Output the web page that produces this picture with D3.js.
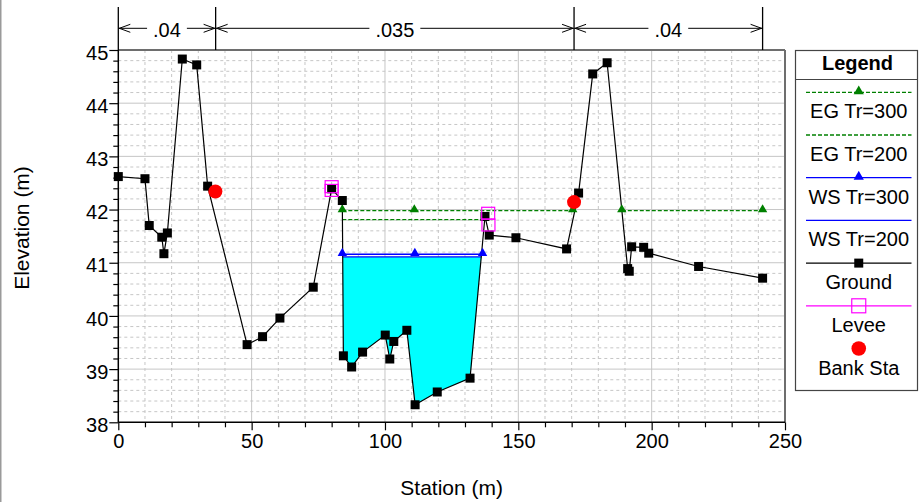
<!DOCTYPE html>
<html><head><meta charset="utf-8">
<script src="https://cdn.jsdelivr.net/npm/d3@7"></script>
<style>
html,body{margin:0;padding:0;background:#fff;}
svg{display:block;font-family:"Liberation Sans",Arial,Helvetica,sans-serif;}
</style></head>
<body>
<svg id="c" width="919" height="502"></svg>
<script>
// ---------- data ----------
const ground = [
  [0,42.62],[10.0,42.58],[11.6,41.70],[16.3,41.48],[17.1,41.17],[18.4,41.56],
  [24.0,44.83],[29.4,44.72],[33.5,42.44],[48.3,39.46],[54.1,39.61],[60.6,39.96],
  [73.1,40.54],[80.0,42.39],[84.0,42.17],[84.4,39.25],[87.5,39.04],[91.6,39.32],
  [100.1,39.64],[101.8,39.19],[103.3,39.52],[108.2,39.73],[111.3,38.33],[119.6,38.57],
  [131.9,38.83],[137.5,41.87],[139.1,41.52],[149.1,41.47],[168.1,41.26],[172.6,42.31],
  [177.9,44.55],[183.3,44.76],[191.0,40.89],[191.6,40.84],[192.5,41.30],[197.0,41.29],
  [198.9,41.18],[217.6,40.93],[241.6,40.71]
];
const eg300Segments = [
  [[84.0,41.98],[111.0,41.98],[170.4,41.98]],
  [[188.8,41.98],[241.6,41.98]]
];
const eg200 = [[84.0,41.81],[136.8,41.81]];
const ws300 = [[84.0,41.16],[111.2,41.16],[136.6,41.16]];
const ws200Level = 41.11;
const ws200Range = [84.0, 137.5];
const levee = [[80.0,42.43],[80.0,42.36],[138.7,41.93],[138.8,41.71]];
const bankSta = [[36.4,42.34],[170.9,42.14]];
const nBreaks = [0, 36.5, 170.9, 241.6];
const nValues = [".04", ".035", ".04"];
const xTicks = [0,50,100,150,200,250];
const yTicks = [38,39,40,41,42,43,44,45];
const legendItems = ["EG Tr=300","EG Tr=200","WS Tr=300","WS Tr=200","Ground","Levee","Bank Sta"];

// ---------- layout ----------
const svg = d3.select("#c");
const L = 118.3, R = 785, T = 50, B = 422.3;
const x = d3.scaleLinear().domain([0,250]).range([L,R]);
const y = d3.scaleLinear().domain([38,45]).range([B,T]);
const gridCol = "#c6c6c6";

// outer left border
svg.append("rect").attr("x",0).attr("y",0).attr("width",1.5).attr("height",502).attr("fill","#9a9a9a");

// ---------- grid ----------
const g = svg.append("g");
d3.range(0,251,10).forEach(v=>{
  const major = v%50===0;
  if(v===0||v===250) return;
  g.append("line").attr("x1",x(v)).attr("x2",x(v)).attr("y1",T).attr("y2",B)
   .attr("stroke",gridCol).attr("stroke-width",1)
   .attr("stroke-dasharray",major?null:"3,3");
});
d3.range(0,36).forEach(i=>{
  const v = 38 + i*0.2;
  const major = i%5===0;
  if(i===0) return;
  g.append("line").attr("x1",L).attr("x2",R).attr("y1",y(v)).attr("y2",y(v))
   .attr("stroke",gridCol).attr("stroke-width",1)
   .attr("stroke-dasharray",major?null:"3,3");
});

// ---------- WS Tr=200 fill ----------
function belowPolygon(pts, level, s0, s1){
  const sub = pts.filter(p=>p[0]>=s0-1e-9 && p[0]<=s1+1e-9);
  const poly = [];
  for(let i=0;i<sub.length;i++){
    const p = sub[i];
    if(i>0){
      const q = sub[i-1];
      if((q[1]-level)*(p[1]-level)<0){
        const t = (level-q[1])/(p[1]-q[1]);
        poly.push([q[0]+t*(p[0]-q[0]), level]);
      }
    }
    if(p[1]<=level) poly.push(p);
  }
  return poly;
}
const fillPoly = belowPolygon(ground, ws200Level, ws200Range[0], ws200Range[1]);
svg.append("path")
  .attr("d", d3.line().x(d=>x(d[0])).y(d=>y(d[1]))(fillPoly)+"Z")
  .attr("fill","#00ffff").attr("stroke","none");

const line = d3.line().x(d=>x(d[0])).y(d=>y(d[1]));

// WS Tr=200 line
const ws200Pts = [[fillPoly[0][0], ws200Level],[fillPoly[fillPoly.length-1][0], ws200Level]];
svg.append("path").attr("d",line(ws200Pts)).attr("fill","none").attr("stroke","#0000ff").attr("stroke-width",1.3);
// WS Tr=300
svg.append("path").attr("d",line(ws300)).attr("fill","none").attr("stroke","#0000ff").attr("stroke-width",1.3);
// EG Tr=200
svg.append("path").attr("d",line(eg200)).attr("fill","none").attr("stroke","#008000").attr("stroke-width",1.3).attr("stroke-dasharray","4,2");
// EG Tr=300
eg300Segments.forEach(seg=>{
  svg.append("path").attr("d",line(seg)).attr("fill","none").attr("stroke","#008000").attr("stroke-width",1.3).attr("stroke-dasharray","4,2");
});

// Ground
svg.append("path").attr("d",line(ground)).attr("fill","none").attr("stroke","#000").attr("stroke-width",1.2);

// markers
const tri = d3.symbol().type(d3.symbolTriangle).size(38);
eg300Segments.flat().forEach(p=>{
  svg.append("path").attr("d",tri()).attr("transform",`translate(${x(p[0])},${y(p[1])-1})`).attr("fill","#008000");
});
ws300.forEach(p=>{
  svg.append("path").attr("d",tri()).attr("transform",`translate(${x(p[0])},${y(p[1])-1})`).attr("fill","#0000ff");
});
ground.forEach(p=>{
  svg.append("rect").attr("x",x(p[0])-4.5).attr("y",y(p[1])-4.5).attr("width",9).attr("height",9).attr("fill","#000");
});
levee.forEach(p=>{
  svg.append("rect").attr("x",x(p[0])-6.5).attr("y",y(p[1])-6).attr("width",13).attr("height",12)
    .attr("fill","none").attr("stroke","#ff00ff").attr("stroke-width",1.2);
});
bankSta.forEach(p=>{
  svg.append("circle").attr("cx",x(p[0])).attr("cy",y(p[1])).attr("r",7).attr("fill","#ff0000");
});

// ---------- frame & axes ----------
svg.append("line").attr("x1",L).attr("x2",R).attr("y1",T).attr("y2",T).attr("stroke","#6e6e6e").attr("stroke-width",2);
svg.append("line").attr("x1",R).attr("x2",R).attr("y1",T).attr("y2",B).attr("stroke","#6e6e6e").attr("stroke-width",2);

const xAxis = svg.append("g").attr("transform",`translate(0,${B})`)
  .call(d3.axisBottom(x).tickValues(xTicks).tickSize(8).tickFormat(d3.format("d")));
const xMinor = svg.append("g").attr("transform",`translate(0,${B})`)
  .call(d3.axisBottom(x).tickValues(d3.range(0,251,10).filter(v=>v%50!==0)).tickSize(5).tickFormat(""));
const yAxis = svg.append("g").attr("transform",`translate(${L},0)`)
  .call(d3.axisLeft(y).tickValues(yTicks).tickSize(9).tickFormat(d3.format("d")));
const yMinor = svg.append("g").attr("transform",`translate(${L},0)`)
  .call(d3.axisLeft(y).tickValues(d3.range(0,36).filter(i=>i%5!==0).map(i=>38+i*0.2)).tickSize(5).tickFormat(""));
[xAxis,xMinor,yAxis,yMinor].forEach(a=>{
  a.selectAll("path.domain").attr("stroke","#000").attr("stroke-width",1.5);
  a.selectAll(".tick line").attr("stroke","#000").attr("stroke-width",1.2);
});
xMinor.select("path.domain").remove(); yMinor.select("path.domain").remove();
xAxis.select("path.domain").attr("d",`M${L},0H${R}`);
yAxis.select("path.domain").attr("d",`M0,${B}V${T}`);
xAxis.selectAll(".tick text").attr("font-size",20).attr("fill","#000").attr("y",12).attr("dy","0.71em")
  .attr("font-family","Liberation Sans, Arial, sans-serif");
yAxis.selectAll(".tick text").attr("font-size",20).attr("fill","#000").attr("x",-10).attr("dy","0.46em")
  .attr("font-family","Liberation Sans, Arial, sans-serif");

svg.append("text").attr("x",(L+R)/2).attr("y",495).attr("text-anchor","middle")
  .attr("font-size",21).text("Station (m)");
svg.append("text").attr("transform","translate(29,228) rotate(-90)").attr("text-anchor","middle")
  .attr("font-size",21).text("Elevation (m)");

// ---------- Manning's n ----------
const nY = 28.3;
nBreaks.forEach(b=>{
  svg.append("line").attr("x1",x(b)).attr("x2",x(b)).attr("y1",7).attr("y2",T)
    .attr("stroke","#000").attr("stroke-width",1.3);
});
nValues.forEach((v,i)=>{
  const a = x(nBreaks[i]), b = x(nBreaks[i+1]), m = (a+b)/2;
  const t = svg.append("text").attr("x",m).attr("y",36.7).attr("text-anchor","middle").attr("font-size",20).text(v);
  const w = t.node().getComputedTextLength();
  const gap = w/2 + 6;
  svg.append("line").attr("x1",a).attr("x2",m-gap).attr("y1",nY).attr("y2",nY).attr("stroke","#000").attr("stroke-width",1);
  svg.append("line").attr("x1",m+gap).attr("x2",b).attr("y1",nY).attr("y2",nY).attr("stroke","#000").attr("stroke-width",1);
  // arrowheads (open chevrons) pointing outward to the break lines
  svg.append("path").attr("d",`M${a+12},${nY-4}L${a+1},${nY}L${a+12},${nY+4}`).attr("fill","none").attr("stroke","#000").attr("stroke-width",1);
  svg.append("path").attr("d",`M${b-12},${nY-4}L${b-1},${nY}L${b-12},${nY+4}`).attr("fill","none").attr("stroke","#000").attr("stroke-width",1);
});

// ---------- Legend ----------
const lg = svg.append("g");
const LX = 795.5, LW = 122, LT = 50.5, LH = 340;
lg.append("rect").attr("x",LX).attr("y",LT).attr("width",LW).attr("height",LH).attr("fill","#fff").attr("stroke","#444").attr("stroke-width",1.2);
lg.append("line").attr("x1",LX).attr("x2",LX+LW).attr("y1",79.5).attr("y2",79.5).attr("stroke","#444").attr("stroke-width",1.2);
lg.append("text").attr("x",LX+LW/2+1).attr("y",70).attr("text-anchor","middle").attr("font-size",20).attr("font-weight","bold").text("Legend");
const lx1 = 806, lx2 = 911.5, lcx = (lx1+lx2)/2;
const styles = [
  {c:"#008000",dash:"4,2",m:"tri"},
  {c:"#008000",dash:"4,2",m:null},
  {c:"#0000ff",dash:null,m:"tri"},
  {c:"#0000ff",dash:null,m:null},
  {c:"#000",dash:null,m:"sq"},
  {c:"#ff00ff",dash:null,m:"hsq"},
  {c:"#ff0000",dash:null,m:"dot",noLine:true}
];
legendItems.forEach((name,i)=>{
  const ly = 92.3 + i*42.7;
  const s = styles[i];
  if(!s.noLine){
    lg.append("line").attr("x1",lx1).attr("x2",lx2).attr("y1",ly).attr("y2",ly)
      .attr("stroke",s.c).attr("stroke-width",1.3).attr("stroke-dasharray",s.dash);
  }
  if(s.m==="tri") lg.append("path").attr("d",d3.symbol().type(d3.symbolTriangle).size(45)()).attr("transform",`translate(${lcx},${ly-1})`).attr("fill",s.c);
  if(s.m==="sq") lg.append("rect").attr("x",lcx-4.5).attr("y",ly-4.5).attr("width",9).attr("height",9).attr("fill",s.c);
  if(s.m==="hsq") lg.append("rect").attr("x",lcx-7).attr("y",ly-7).attr("width",14).attr("height",14).attr("fill","none").attr("stroke",s.c).attr("stroke-width",1.2);
  if(s.m==="dot") lg.append("circle").attr("cx",lcx).attr("cy",ly).attr("r",7.3).attr("fill",s.c);
  lg.append("text").attr("x",lcx).attr("y",ly+26).attr("text-anchor","middle").attr("font-size",20).text(name);
});
</script>
</body></html>
